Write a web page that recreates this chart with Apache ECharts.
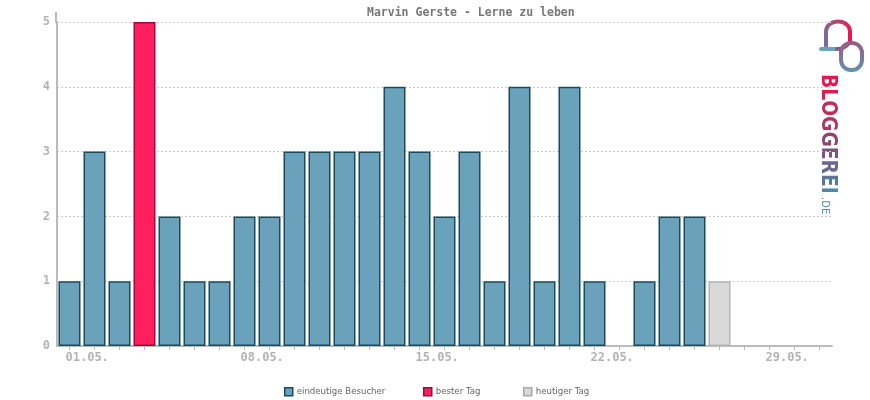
<!DOCTYPE html>
<html>
<head>
<meta charset="utf-8">
<script src="https://cdn.jsdelivr.net/npm/echarts@6/dist/echarts.min.js"></script>
<style>html,body{margin:0;padding:0;background:#fff}#c{width:870px;height:400px}</style>
</head>
<body>
<div id="c"></div>
<script>
const titleText = 'Marvin Gerste - Lerne zu leben';
const days = ['01.05.','02.05.','03.05.','04.05.','05.05.','06.05.','07.05.','08.05.','09.05.','10.05.','11.05.','12.05.','13.05.','14.05.','15.05.','16.05.','17.05.','18.05.','19.05.','20.05.','21.05.','22.05.','23.05.','24.05.','25.05.','26.05.','27.05.','28.05.','29.05.','30.05.','31.05.'];
const visitors = [1,3,1,5,2,1,1,2,2,3,3,3,3,4,3,2,3,1,4,1,4,1,0,1,2,2,1,0,0,0,0];
const bestDayIndex = 3;
const todayIndex = 26;
const yTicks = [0,1,2,3,4,5];
const legendNames = ['eindeutige Besucher','bester Tag','heutiger Tag'];

// zero days draw no bar
const blueData = visitors.map((v,i)=> (i===bestDayIndex||i===todayIndex||v===0) ? null : v);
const redData = visitors.map((v,i)=> i===bestDayIndex ? v : null);
const grayData = visitors.map((v,i)=> i===todayIndex ? v : null);

const mono = '"DejaVu Sans Mono", "Liberation Mono", monospace';
const chart = echarts.init(document.getElementById('c'), null, {renderer:'canvas'});

const logoLetters = ['B','L','O','G','G','E','R','E','I'];
const logoColors = ['#e5174f','#dc1d51','#c82856','#ab3863','#8e4670','#7a5580','#6a6690','#5c7698','#5287a6'];
const logoFont = 'bold 22px "DejaVu Sans", sans-serif';
const rich = {};
logoColors.forEach((c,i)=>{ rich['l'+i] = {fill:c, font:logoFont}; });
const logoText = logoLetters.map((l,i)=>'{l'+i+'|'+l+'}').join('');

const grad = (x2,y2,stops)=>({type:'linear', x:0, y:0, x2:x2, y2:y2, colorStops:stops});

const legendStyles = [
  {color:'#6aa2bb',borderColor:'#1b4a5e',borderWidth:1.5},
  {color:'#ff1f5e',borderColor:'#a00a3a',borderWidth:1.5},
  {color:'#d9d9d9',borderColor:'#a8a8a8',borderWidth:1.5}
];
const legendLefts = [279, 418, 518];

const option = {
  animation:false,
  backgroundColor:'#fff',
  title:{
    text:titleText, left:362, top:2,
    textStyle:{fontFamily:mono, fontSize:11.5, fontWeight:'bold', color:'#777'}
  },
  legend: legendNames.map((n,i)=>({
    data:[{name:n, itemStyle:legendStyles[i]}],
    left:legendLefts[i], top:382, icon:'rect', itemWidth:8, itemHeight:8,
    textStyle:{fontFamily:'"DejaVu Sans", sans-serif', fontSize:8.6, color:'#666', padding:[0,0,0,-1]}
  })),
  grid:{left:57, right:38, top:22, bottom:54, containLabel:false},
  xAxis:{
    type:'category', data:days, boundaryGap:true,
    axisLine:{lineStyle:{color:'#bbb', width:2}},
    axisTick:{show:true, interval:0, alignWithLabel:true, length:4, lineStyle:{color:'#bbb', width:1}},
    axisLabel:{interval:6, align:'left', margin:6, padding:[0,0,0,-4], fontFamily:mono, fontSize:12, fontWeight:'bold', color:'#b3b3b3'},
    splitLine:{show:false}
  },
  yAxis:{
    type:'value', min:yTicks[0], max:yTicks[yTicks.length-1], interval:1,
    axisLine:{show:true, lineStyle:{color:'#bbb', width:2}},
    axisTick:{show:false},
    axisLabel:{margin:7, fontFamily:mono, fontSize:12, fontWeight:'bold', color:'#b3b3b3'},
    splitLine:{lineStyle:{color:'#ccc', type:[2,2], width:1}}
  },
  series:[
    {name:legendNames[0], type:'bar', stack:'v', data:blueData, barWidth:22,
     itemStyle:{color:'#6aa2bb', borderColor:'#1b4a5e', borderWidth:1.5}},
    {name:legendNames[1], type:'bar', stack:'v', data:redData, barWidth:22,
     itemStyle:{color:'#ff1f5e', borderColor:'#a00a3a', borderWidth:1.5}},
    {name:legendNames[2], type:'bar', stack:'v', data:grayData, barWidth:22,
     itemStyle:{color:'#d9d9d9', borderColor:'#b5b5b5', borderWidth:1.5}}
  ],
  graphic:[
    {type:'line', shape:{x1:56, y1:12, x2:56, y2:23}, style:{stroke:'#bbb', lineWidth:2}, silent:true},
    {type:'line', shape:{x1:826, y1:46, x2:826, y2:32}, style:{stroke:'#7a6c94', lineWidth:4, lineCap:'round'}},
    {type:'bezierCurve', shape:{x1:826, y1:32, cpx1:826, cpy1:18, cpx2:850, cpy2:18, x2:850, y2:32},
     style:{fill:null, lineWidth:4, lineCap:'round', stroke:grad(1,0,[{offset:0,color:'#7d6a92'},{offset:0.6,color:'#c23a68'},{offset:1,color:'#ee1650'}])}},
    {type:'line', shape:{x1:850, y1:32, x2:850, y2:41}, style:{stroke:'#ee1650', lineWidth:4, lineCap:'round'}},
    {type:'line', shape:{x1:821, y1:49, x2:837, y2:49}, style:{stroke:'#68a3bd', lineWidth:4, lineCap:'round'}},
    {type:'bezierCurve', shape:{x1:837, y1:49, cpx1:843, cpy1:49, cpx2:847, cpy2:46, x2:849, y2:43},
     style:{fill:null, lineWidth:4, lineCap:'round', stroke:'#8a5a86'}},
    {type:'rect', shape:{x:841, y:43, width:21, height:27, r:10},
     style:{fill:null, lineWidth:4, stroke:grad(0,1,[{offset:0,color:'#9a5a84'},{offset:1,color:'#5f93b0'}])}},
    {type:'text', x:817, y:74, rotation:-Math.PI/2, scaleX:0.85,
     style:{text:logoText, rich:rich, align:'left', verticalAlign:'bottom', font:logoFont}},
    {type:'text', x:820, y:197, rotation:-Math.PI/2,
     style:{text:'.DE', fill:'#4f8db2', align:'left', verticalAlign:'bottom', font:'10px "DejaVu Sans", sans-serif'}}
  ]
};
chart.setOption(option);
</script>
</body>
</html>
